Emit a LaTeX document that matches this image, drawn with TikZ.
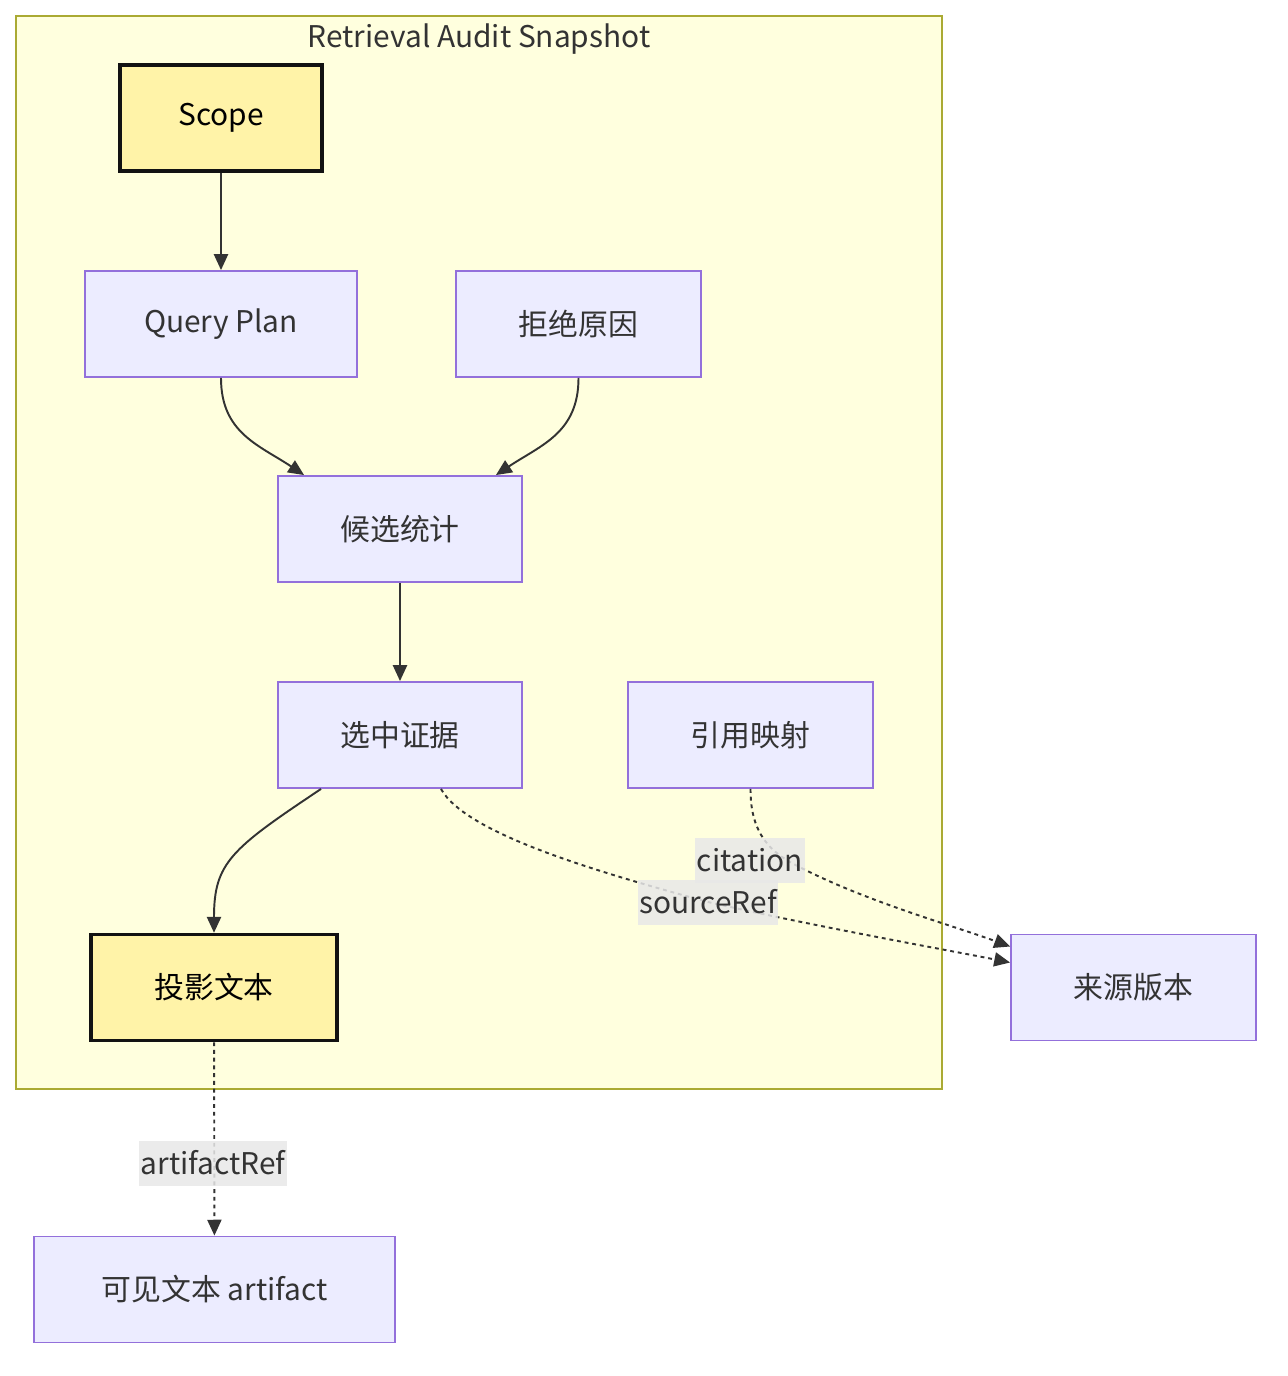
\documentclass[tikz,border=0pt]{standalone}
\usepackage{fontspec}
\setmainfont{Noto Sans CJK SC}
\usetikzlibrary{arrows.meta}
\definecolor{clusterfill}{HTML}{FFFFDE}
\definecolor{clusterline}{HTML}{AAAA33}
\definecolor{nodefill}{HTML}{ECECFF}
\definecolor{nodeline}{HTML}{9370DB}
\definecolor{keyfill}{HTML}{FFF3A8}
\definecolor{inktext}{HTML}{333333}
\definecolor{labelfill}{HTML}{E8E8E8}
\begin{document}
\begin{tikzpicture}[
    x=0.02cm, y=-0.02cm,
    font=\fontsize{17}{20}\selectfont,
    box/.style={draw=nodeline, fill=nodefill, line width=1.1pt, text=inktext, minimum height=2.12cm, inner sep=0pt},
    keybox/.style={draw=black!93, fill=keyfill, line width=2pt, text=black, minimum height=2.12cm, inner sep=0pt},
    flow/.style={-{Triangle[length=9pt,width=8pt]}, line width=1.1pt, draw=inktext},
    ref/.style={-{Triangle[length=9pt,width=8pt]}, line width=1.1pt, draw=inktext, dash pattern=on 2.2pt off 2.2pt},
    edgelabel/.style={fill=labelfill, fill opacity=0.85, text opacity=1, text=inktext, inner sep=1pt, minimum height=0.9cm}
]

\useasboundingbox (0,0) rectangle (1288,1376);

% Cluster
\draw[fill=clusterfill, draw=clusterline, line width=1.1pt] (16,16) rectangle (942,1089);
\node[text=inktext] (title) at (479,39) {Retrieval Audit Snapshot};

% Nodes
\node[keybox, minimum width=4.04cm] (scope) at (221,118) {Scope};
\node[box, minimum width=5.44cm] (plan) at (221,324) {Query Plan};
\node[box, minimum width=4.9cm] (reject) at (578.5,324) {拒绝原因};
\node[box, minimum width=4.88cm] (cand) at (400,529) {候选统计};
\node[box, minimum width=4.88cm] (sel) at (400,735) {选中证据};
\node[box, minimum width=4.9cm] (cite) at (750.5,735) {引用映射};
\node[keybox, minimum width=4.92cm] (proj) at (214,987.5) {投影文本};
\node[box, minimum width=4.9cm] (src) at (1133.5,987.5) {来源版本};
\node[box, minimum width=7.22cm] (vis) at (214.5,1289.5) {可见文本 artifact};

% Label positions
\coordinate (citemid) at (750,860);
\coordinate (citebend) at (790,862);
\coordinate (srcmid) at (708,902);
\coordinate (artmid) at (213,1163);

% Solid flow
\draw[flow] (scope) -- (plan);
\draw[flow] (plan.south) .. controls +(0,55) and +(-45,-30) .. ([xshift=0.54cm]cand.north west);
\draw[flow] (reject.south) .. controls +(0,55) and +(45,-30) .. ([xshift=-0.54cm]cand.north east);
\draw[flow] (cand) -- (sel);
\draw[flow] ([xshift=-1.58cm]sel.south) .. controls +(-90,60) and +(0,-70) .. (proj.north);

% Dotted references
\draw[ref] ([xshift=0.82cm]sel.south) .. controls +(25,45) and +(-110,-30) .. (srcmid)
  .. controls +(110,25) and +(-60,-12) .. ([yshift=0.5cm]src.west);
\draw[ref] (cite.south) .. controls +(0,32) and +(-30,-17) .. (citebend)
  .. controls +(70,38) and +(-60,-22) .. ([yshift=0.82cm]src.west);
\draw[ref] (proj) -- (vis);

% Edge labels
\node[edgelabel] (citelbl) at (citemid) {citation};
\node[edgelabel] (srclbl) at (srcmid) {sourceRef};
\node[edgelabel] (artlbl) at (artmid) {artifactRef};

\end{tikzpicture}
\end{document}
